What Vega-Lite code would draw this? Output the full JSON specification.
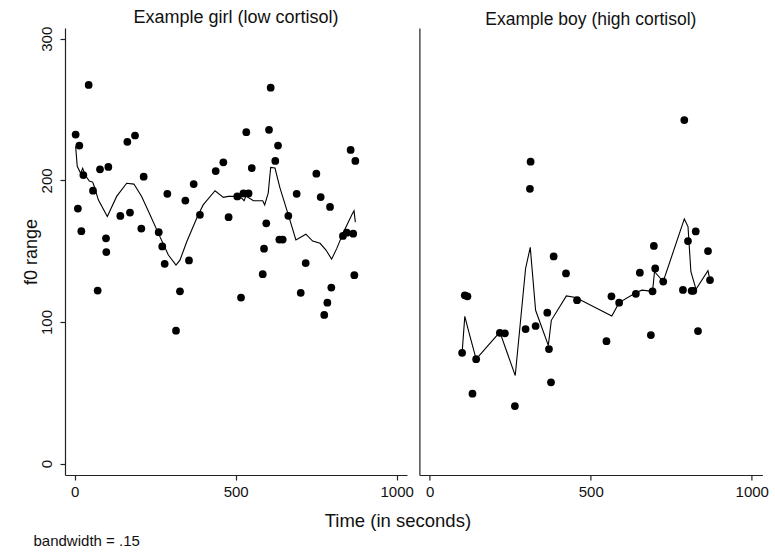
{
  "$schema": "https://vega.github.io/schema/vega-lite/v6.json",
  "background": "white",
  "padding": {"left": 22, "top": 8, "right": 5, "bottom": 5},
  "bounds": "flush",
  "spacing": 12.4,
  "datasets": {
    "pts": [
      {"panel":"girl","time":3,"f0":232.4},{"panel":"girl","time":14.5,"f0":224.6},{"panel":"girl","time":43.5,"f0":267.4},{"panel":"girl","time":27,"f0":203.8},{"panel":"girl","time":10,"f0":180.1},{"panel":"girl","time":20.7,"f0":164.1},{"panel":"girl","time":57,"f0":192.7},{"panel":"girl","time":71.4,"f0":122.2},{"panel":"girl","time":78.7,"f0":207.8},{"panel":"girl","time":104.6,"f0":209.5},{"panel":"girl","time":97.3,"f0":159.1},{"panel":"girl","time":98.3,"f0":149.4},{"panel":"girl","time":163.6,"f0":227.2},{"panel":"girl","time":187.4,"f0":231.7},{"panel":"girl","time":141.8,"f0":174.9},{"panel":"girl","time":171.8,"f0":177.3},{"panel":"girl","time":214.3,"f0":202.6},{"panel":"girl","time":207,"f0":166},{"panel":"girl","time":261,"f0":163.4},{"panel":"girl","time":272,"f0":153.4},{"panel":"girl","time":287.8,"f0":190.5},{"panel":"girl","time":279.5,"f0":141.1},{"panel":"girl","time":314.7,"f0":93.9},{"panel":"girl","time":327,"f0":121.7},{"panel":"girl","time":343.7,"f0":185.8},{"panel":"girl","time":355,"f0":143.5},{"panel":"girl","time":369.6,"f0":197.4},{"panel":"girl","time":389,"f0":175.7},{"panel":"girl","time":438,"f0":206.6},{"panel":"girl","time":461.7,"f0":212.8},{"panel":"girl","time":478,"f0":174},{"panel":"girl","time":505,"f0":188.7},{"panel":"girl","time":516.6,"f0":117.3},{"panel":"girl","time":524,"f0":190.8},{"panel":"girl","time":540,"f0":190.8},{"panel":"girl","time":533,"f0":234},{"panel":"girl","time":603.5,"f0":235.7},{"panel":"girl","time":608.7,"f0":265.5},{"panel":"girl","time":631.5,"f0":224.6},{"panel":"girl","time":623,"f0":213.7},{"panel":"girl","time":550,"f0":208.7},{"panel":"girl","time":595,"f0":169.7},{"panel":"girl","time":588,"f0":151.8},{"panel":"girl","time":584,"f0":133.8},{"panel":"girl","time":635.6,"f0":158.2},{"panel":"girl","time":646,"f0":158.2},{"panel":"girl","time":663.5,"f0":175},{"panel":"girl","time":689.4,"f0":190.5},{"panel":"girl","time":717.4,"f0":141.6},{"panel":"girl","time":702,"f0":120.6},{"panel":"girl","time":750.5,"f0":204.7},{"panel":"girl","time":764,"f0":188.2},{"panel":"girl","time":793,"f0":181.3},{"panel":"girl","time":797,"f0":124.3},{"panel":"girl","time":784.7,"f0":113.7},{"panel":"girl","time":775,"f0":105},{"panel":"girl","time":833,"f0":160.8},{"panel":"girl","time":845,"f0":163.1},{"panel":"girl","time":865,"f0":162.4},{"panel":"girl","time":857,"f0":221.5},{"panel":"girl","time":871.6,"f0":213.7},{"panel":"girl","time":868.5,"f0":133.1},
      {"panel":"boy","time":790.5,"f0":242.6},{"panel":"boy","time":313.3,"f0":213.2},{"panel":"boy","time":311.2,"f0":194.1},{"panel":"boy","time":384.9,"f0":146.3},{"panel":"boy","time":423.2,"f0":134.3},{"panel":"boy","time":108.9,"f0":118.9},{"panel":"boy","time":117.2,"f0":118.2},{"panel":"boy","time":457.5,"f0":115.4},{"panel":"boy","time":365.1,"f0":106.6},{"panel":"boy","time":297.7,"f0":95},{"panel":"boy","time":328.8,"f0":97.2},{"panel":"boy","time":217.8,"f0":92.4},{"panel":"boy","time":233.4,"f0":92},{"panel":"boy","time":100.6,"f0":78.3},{"panel":"boy","time":144.2,"f0":73.8},{"panel":"boy","time":370.3,"f0":80.9},{"panel":"boy","time":376.6,"f0":57.4},{"panel":"boy","time":132.8,"f0":49.4},{"panel":"boy","time":264.5,"f0":40.7},{"panel":"boy","time":548.8,"f0":86.5},{"panel":"boy","time":564.3,"f0":118.2},{"panel":"boy","time":588.2,"f0":113.7},{"panel":"boy","time":640.1,"f0":119.9},{"panel":"boy","time":652.5,"f0":134.8},{"panel":"boy","time":691.9,"f0":121.7},{"panel":"boy","time":696,"f0":153.7},{"panel":"boy","time":700.2,"f0":137.8},{"panel":"boy","time":725.1,"f0":128.6},{"panel":"boy","time":686.7,"f0":90.8},{"panel":"boy","time":786.3,"f0":122.7},{"panel":"boy","time":813.3,"f0":122},{"panel":"boy","time":818.5,"f0":122},{"panel":"boy","time":801.9,"f0":157.2},{"panel":"boy","time":826,"f0":164},{"panel":"boy","time":864.1,"f0":150.1},{"panel":"boy","time":870.3,"f0":129.6},{"panel":"boy","time":833,"f0":93.6}
    ],
    "fit": [
      {"panel":"girl","time":3,"f0":224},{"panel":"girl","time":8,"f0":210},{"panel":"girl","time":18.6,"f0":205},{"panel":"girl","time":25,"f0":208.5},{"panel":"girl","time":32,"f0":204},{"panel":"girl","time":45.5,"f0":199.6},{"panel":"girl","time":56,"f0":198.8},{"panel":"girl","time":61,"f0":195.7},{"panel":"girl","time":73.5,"f0":186.3},{"panel":"girl","time":101.4,"f0":174.5},{"panel":"girl","time":130.4,"f0":188.7},{"panel":"girl","time":161.5,"f0":198},{"panel":"girl","time":184,"f0":197.4},{"panel":"girl","time":208,"f0":188.7},{"panel":"girl","time":234,"f0":175.7},{"panel":"girl","time":260,"f0":162.6},{"panel":"girl","time":291,"f0":147.3},{"panel":"girl","time":314.7,"f0":140.2},{"panel":"girl","time":327,"f0":143.7},{"panel":"girl","time":348,"f0":156.7},{"panel":"girl","time":379,"f0":173.3},{"panel":"girl","time":399,"f0":182.7},{"panel":"girl","time":436,"f0":192.7},{"panel":"girl","time":461.7,"f0":188},{"panel":"girl","time":477,"f0":188.7},{"panel":"girl","time":498,"f0":188.7},{"panel":"girl","time":518.6,"f0":187.5},{"panel":"girl","time":526,"f0":185.6},{"panel":"girl","time":532,"f0":189},{"panel":"girl","time":555,"f0":185.6},{"panel":"girl","time":584,"f0":185.6},{"panel":"girl","time":590,"f0":182.7},{"panel":"girl","time":601,"f0":191},{"panel":"girl","time":608.7,"f0":209.2},{"panel":"girl","time":622,"f0":208.7},{"panel":"girl","time":637.7,"f0":194.6},{"panel":"girl","time":663.5,"f0":175.7},{"panel":"girl","time":687,"f0":158},{"panel":"girl","time":718,"f0":162},{"panel":"girl","time":739,"f0":157.2},{"panel":"girl","time":762,"f0":155.6},{"panel":"girl","time":780.5,"f0":150.8},{"panel":"girl","time":798,"f0":144.4},{"panel":"girl","time":814,"f0":152},{"panel":"girl","time":834,"f0":163},{"panel":"girl","time":860.7,"f0":175.7},{"panel":"girl","time":867.5,"f0":178.5},{"panel":"girl","time":871.6,"f0":170.5},
      {"panel":"boy","time":100.6,"f0":78.3},{"panel":"boy","time":109,"f0":104},{"panel":"boy","time":121.4,"f0":93},{"panel":"boy","time":144.2,"f0":73.8},{"panel":"boy","time":217.8,"f0":92.9},{"panel":"boy","time":265.6,"f0":62.2},{"panel":"boy","time":297.7,"f0":137.8},{"panel":"boy","time":312.2,"f0":152.7},{"panel":"boy","time":328.8,"f0":108.3},{"panel":"boy","time":368.3,"f0":83.5},{"panel":"boy","time":377.6,"f0":101.2},{"panel":"boy","time":424.3,"f0":118.4},{"panel":"boy","time":453.3,"f0":117.3},{"panel":"boy","time":565.4,"f0":104.3},{"panel":"boy","time":588.2,"f0":113.7},{"panel":"boy","time":640.1,"f0":120.6},{"panel":"boy","time":658.7,"f0":122.5},{"panel":"boy","time":691.9,"f0":121.7},{"panel":"boy","time":698,"f0":135.5},{"panel":"boy","time":725.1,"f0":128.6},{"panel":"boy","time":790.5,"f0":172.8},{"panel":"boy","time":802,"f0":167.4},{"panel":"boy","time":811,"f0":135.5},{"panel":"boy","time":826.8,"f0":123.2},{"panel":"boy","time":864,"f0":136.2},{"panel":"boy","time":868,"f0":132}
    ]
  },
  "config": {
    "view": {"stroke": null},
    "font": "Liberation Sans",
    "axis": {
      "grid": false,
      "domainColor": "#222",
      "tickColor": "#222",
      "domainWidth": 1.2,
      "tickWidth": 1.2,
      "tickSize": 5,
      "labelColor": "#111",
      "titleColor": "#111",
      "labelFont": "Liberation Sans",
      "titleFont": "Liberation Sans",
      "labelFontSize": 15,
      "titleFontWeight": "normal"
    },
    "title": {"font": "Liberation Sans", "fontSize": 18, "fontWeight": "normal", "color": "#111", "anchor": "middle", "offset": -0.7}
  },
  "hconcat": [
    {
      "width": 342,
      "height": 447,
      "title": {"text": "Example girl (low cortisol)"},
      "encoding": {
        "x": {"field": "time", "type": "quantitative",
              "scale": {"domain": [-30, 1032], "nice": false, "zero": false},
              "axis": {"values": [0, 500, 1000], "format": "d", "labelPadding": 4, "title": "bandwidth = .15", "titleFontSize": 15,
                       "titleAlign": "left", "titleX": -32, "titleY": 65, "titleBaseline": "middle"}},
        "y": {"field": "f0", "type": "quantitative",
              "scale": {"domain": [-8, 307.6], "nice": false, "zero": false},
              "axis": {"values": [0, 100, 200, 300], "format": "d", "labelAngle": 270, "labelAlign": "center", "labelBaseline": "bottom", "labelPadding": 6,
                       "title": "f0 range", "titleFontSize": 18, "titleAngle": 270, "titleBaseline": "middle", "titleX": -34}}
      },
      "layer": [
        {"data": {"name": "pts"}, "transform": [{"filter": "datum.panel === 'girl'"}],
         "mark": {"type": "circle", "size": 60, "color": "black", "opacity": 1}},
        {"data": {"name": "fit"}, "transform": [{"filter": "datum.panel === 'girl'"}],
         "mark": {"type": "line", "color": "black", "strokeWidth": 1.1}}
      ]
    },
    {
      "width": 343,
      "height": 447,
      "title": {"text": "Example boy (high cortisol)", "fontSize": 17.5},
      "encoding": {
        "x": {"field": "time", "type": "quantitative",
              "scale": {"domain": [-32, 1033], "nice": false, "zero": false},
              "axis": {"values": [0, 500, 1000], "format": "d", "labelPadding": 4, "title": "Time (in seconds)", "titleFontSize": 18.5,
                       "titleAlign": "center", "titleX": -22, "titleY": 45, "titleBaseline": "middle"}},
        "y": {"field": "f0", "type": "quantitative",
              "scale": {"domain": [-8, 307.6], "nice": false, "zero": false},
              "axis": {"title": null, "labels": false, "ticks": false, "domain": true}}
      },
      "layer": [
        {"data": {"name": "pts"}, "transform": [{"filter": "datum.panel === 'boy'"}],
         "mark": {"type": "circle", "size": 60, "color": "black", "opacity": 1}},
        {"data": {"name": "fit"}, "transform": [{"filter": "datum.panel === 'boy'"}],
         "mark": {"type": "line", "color": "black", "strokeWidth": 1.1}}
      ]
    }
  ]
}
